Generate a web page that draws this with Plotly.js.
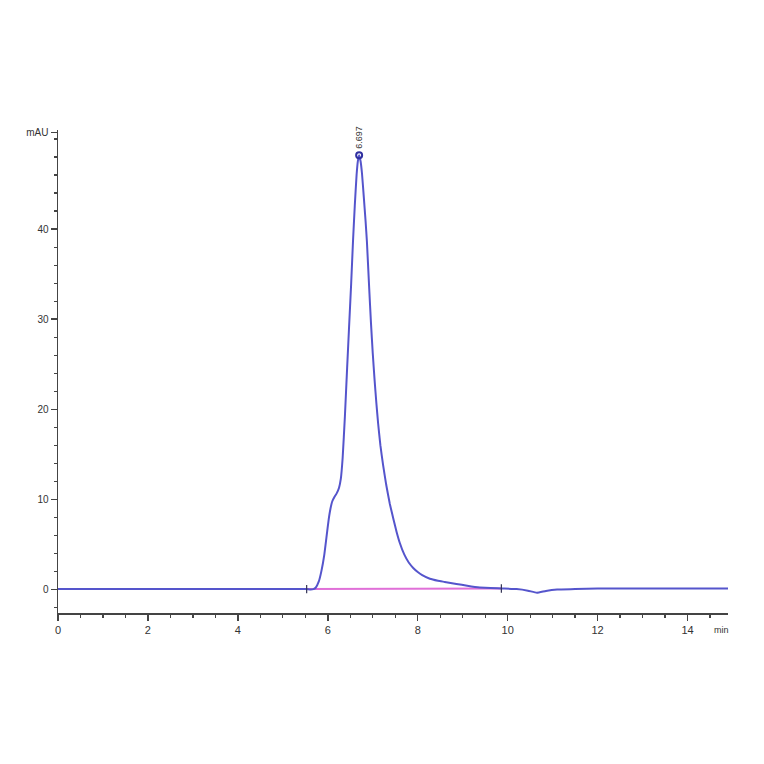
<!DOCTYPE html>
<html>
<head>
<meta charset="utf-8">
<script src="https://cdn.plot.ly/plotly-3.0.1.min.js"></script>
<style>html,body{margin:0;padding:0;background:#fff;}#chart{width:764px;height:764px;}</style>
</head>
<body>
<div id="chart"></div>
<script>
// Chromatogram signal (time in min, absorbance in mAU)
var timeMin = [0, 5.5, 5.62, 5.68, 5.73, 5.8, 5.86, 5.92, 5.97, 6.02, 6.06, 6.1, 6.15, 6.2, 6.25, 6.29, 6.33, 6.38, 6.43, 6.47, 6.52, 6.56, 6.6, 6.64, 6.67, 6.697, 6.73, 6.76, 6.8, 6.84, 6.87, 6.92, 6.96, 7.0, 7.04, 7.08, 7.12, 7.17, 7.23, 7.3, 7.38, 7.46, 7.53, 7.6, 7.7, 7.8, 7.9, 8.0, 8.1, 8.27, 8.45, 8.6, 8.86, 9.1, 9.38, 9.86, 10.2, 10.45, 10.65, 10.85, 11.1, 11.5, 12.0, 14.9];
var signalMAU = [0.05, 0.05, 0.0, 0.05, 0.2, 0.9, 2.1, 3.8, 5.8, 7.8, 9.0, 9.8, 10.3, 10.7, 11.3, 12.3, 14.6, 19.2, 24.6, 28.8, 34.0, 38.6, 42.6, 46.0, 47.6, 48.2, 47.5, 46.2, 43.6, 40.9, 38.6, 33.5, 29.6, 26.2, 23.3, 20.7, 18.4, 16.0, 13.8, 11.6, 9.5, 7.8, 6.4, 5.2, 3.9, 3.0, 2.4, 1.95, 1.6, 1.2, 0.98, 0.85, 0.63, 0.42, 0.22, 0.12, 0.05, -0.12, -0.35, -0.15, 0.0, 0.05, 0.12, 0.12];
// Integration baseline
var baselineTime = [5.53, 9.86];
var baselineMAU = [0.05, 0.12];
// Peak annotation
var peakTime = [6.697];
var peakMAU = [48.2];
var peakLabel = ["6.697"];
// Axis ticks
var xTicks = [0, 2, 4, 6, 8, 10, 12, 14];
var yTicks = [0, 10, 20, 30, 40, 50.7];
var yTickText = ["0", "10", "20", "30", "40", "mAU"];

var data = [
  {x: baselineTime, y: baselineMAU, mode: 'lines', line: {color: '#e070d8', width: 2}, hoverinfo: 'skip'},
  {x: timeMin, y: signalMAU, mode: 'lines', line: {color: '#5555cc', width: 2, shape: 'spline', smoothing: 0.4}, hoverinfo: 'skip'},
  {x: baselineTime, y: baselineMAU, mode: 'markers', marker: {symbol: 'line-ns', size: 6, line: {color: '#333355', width: 1.2}}, hoverinfo: 'skip'},
  {x: peakTime, y: peakMAU, mode: 'markers', marker: {symbol: 'circle-open', size: 6, color: '#3030a0', line: {width: 2, color: '#3030a0'}}, hoverinfo: 'skip'}
];

var layout = {
  width: 764, height: 764,
  margin: {l: 58, r: 36, t: 130, b: 151},
  paper_bgcolor: '#ffffff', plot_bgcolor: '#ffffff',
  showlegend: false,
  font: {family: 'Liberation Sans, Arial, sans-serif', size: 11, color: '#333'},
  xaxis: {
    range: [0, 14.9], showgrid: false, zeroline: false,
    showline: true, linecolor: '#444', linewidth: 1.5,
    ticks: 'outside', ticklen: 6, tickwidth: 1.5, tickcolor: '#444',
    tickmode: 'array', tickvals: xTicks, ticktext: xTicks.map(String),
    minor: {dtick: 0.5, ticks: 'outside', ticklen: 3, tickwidth: 1.3, tickcolor: '#444', showgrid: false},
    tickfont: {size: 11, color: '#333'}
  },
  yaxis: {
    range: [-2.6, 51], showgrid: false, zeroline: false,
    showline: true, linecolor: '#444', linewidth: 1.5,
    ticks: 'outside', ticklen: 6, tickwidth: 1.5, tickcolor: '#444',
    tickmode: 'array', tickvals: yTicks, ticktext: yTickText,
    minor: {tickmode: 'linear', tick0: 0, dtick: 2, ticks: 'outside', ticklen: 3, tickwidth: 1.3, tickcolor: '#444', showgrid: false},
    tickfont: {size: 10, color: '#333'}
  },
  annotations: [
    {x: peakTime[0], y: peakMAU[0], xref: 'x', yref: 'y', text: peakLabel[0], textangle: -90,
     showarrow: false, yanchor: 'bottom', yshift: 4, font: {size: 9, color: '#333'}},
    {x: 14.75, y: 0, xref: 'x', yref: 'paper', text: 'min', showarrow: false,
     yanchor: 'top', yshift: -10, font: {size: 9, color: '#333'}}
  ]
};

Plotly.newPlot('chart', data, layout, {staticPlot: true, displayModeBar: false});
</script>
</body>
</html>
